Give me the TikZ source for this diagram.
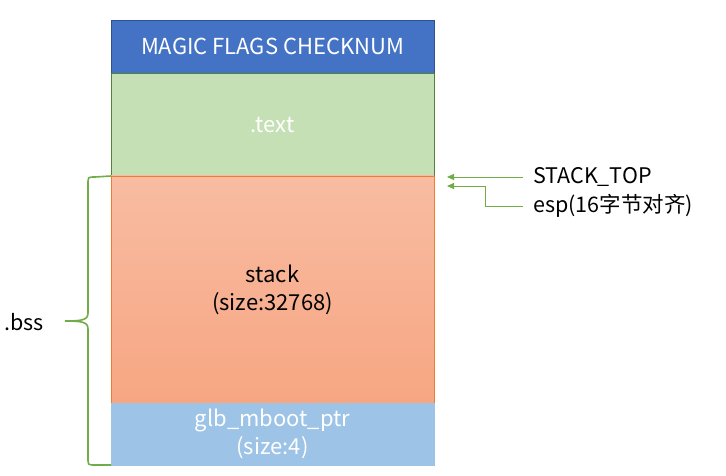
\documentclass[tikz,border=0pt]{standalone}
\usepackage{fontspec}
\setmainfont{Noto Sans CJK SC}
\usetikzlibrary{arrows.meta, positioning}
\definecolor{chead}{HTML}{4472C4}
\definecolor{cheadline}{HTML}{2F528F}
\definecolor{ctext}{HTML}{C5E0B4}
\definecolor{ctextline}{HTML}{548235}
\definecolor{cstacktop}{HTML}{F8BCA2}
\definecolor{cstackbot}{HTML}{F7A682}
\definecolor{cstackline}{HTML}{ED7D31}
\definecolor{cglb}{HTML}{9DC3E6}
\definecolor{cptr}{HTML}{70AD47}

\begin{document}
\begin{tikzpicture}[
  x=1pt, y=-1pt,
  seg/.style={draw, minimum width=323pt, inner sep=0pt, outer sep=0pt,
              align=center, text=white, font=\fontsize{22}{28}\selectfont},
  lbl/.style={anchor=west, inner sep=0pt, inner xsep=10pt,
              font=\fontsize{21.5}{24}\selectfont},
  ptr/.style={draw=cptr, line width=0.9pt, -{Triangle[width=6pt,length=7pt]}},
  brc/.style={draw=cptr, line width=1.6pt}
]
\useasboundingbox (0,0) rectangle (726,476);

% memory segments
\node[seg, fill=chead, draw=cheadline, minimum height=53pt, anchor=north west]
    (magic) at (111,20) {MAGIC FLAGS CHECKNUM};
\node[seg, fill=ctext, draw=ctextline, minimum height=103pt, below=0pt of magic]
    (text) {.text};
\node[seg, top color=cstacktop, bottom color=cstackbot, draw=cstackline,
      minimum height=227pt, text=black, below=0pt of text]
    (stack) {stack\\(size:32768)};
\node[seg, fill=cglb, draw=cglb, minimum height=62pt, below=0pt of stack]
    (glb) {glb\_mboot\_ptr\\(size:4)};

% pointers
\coordinate (sptip) at (447,176);
\coordinate (esptip) at (447,186);
\node[lbl] (stacktop) at (523,177) {STACK\_TOP};
\node[lbl] (esp) at (523,206) {esp(16字节对齐)};
\draw[ptr] (stacktop.west) -- (stacktop.west -| sptip);
\draw[ptr] (esp.west) -- ++(-38,0) |- (esptip);

% bss brace
\coordinate (bsstip) at (65,321);
\draw[brc] (stack.north west) -- (95,177) .. controls (88,177) .. (88,184)
    -- (88,313) .. controls (88,320) and (82,321) .. (bsstip)
    .. controls (82,321) and (88,322) .. (88,329)
    -- (88,458) .. controls (88,465) .. (95,465) -- (glb.south west);
\node[lbl, inner xsep=0pt] (bss) at (4,322) {.bss};
\end{tikzpicture}
\end{document}
